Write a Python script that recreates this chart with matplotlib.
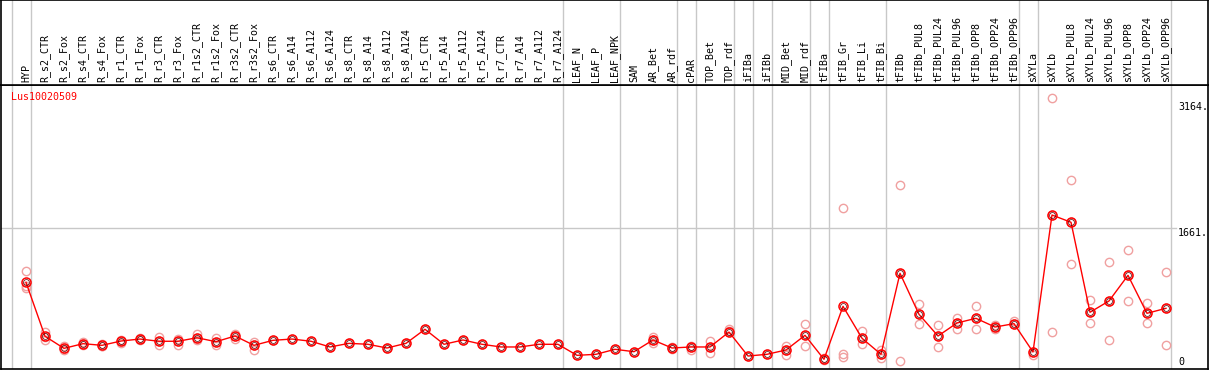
import numpy as np
import matplotlib
matplotlib.use("Agg")
import matplotlib.pyplot as plt

samples = ["HYP",
           "R_s2_CTR", "R_s2_Fox", "R_s4_CTR", "R_s4_Fox", "R_r1_CTR", "R_r1_Fox",
           "R_r3_CTR", "R_r3_Fox", "R_r1s2_CTR", "R_r1s2_Fox", "R_r3s2_CTR", "R_r3s2_Fox",
           "R_s6_CTR", "R_s6_A14", "R_s6_A112", "R_s6_A124",
           "R_s8_CTR", "R_s8_A14", "R_s8_A112", "R_s8_A124",
           "R_r5_CTR", "R_r5_A14", "R_r5_A112", "R_r5_A124",
           "R_r7_CTR", "R_r7_A14", "R_r7_A112", "R_r7_A124",
           "LEAF_N", "LEAF_P", "LEAF_NPK",
           "SAM", "AR_Bet", "AR_rdf",
           "cPAR",
           "TOP_Bet", "TOP_rdf",
           "iFIBa",
           "iFIBb",
           "MID_Bet", "MID_rdf",
           "tFIBa",
           "tFIB_Gr", "tFIB_Li", "tFIB_Bi",
           "tFIBb", "tFIBb_PUL8", "tFIBb_PUL24", "tFIBb_PUL96", "tFIBb_OPP8", "tFIBb_OPP24", "tFIBb_OPP96",
           "sXYLa",
           "sXYLb", "sXYLb_PUL8", "sXYLb_PUL24", "sXYLb_PUL96", "sXYLb_OPP8", "sXYLb_OPP24", "sXYLb_OPP96"]

# size of each sample group (gray separators)
group_sizes = [1, 28, 3, 3, 1, 2, 1, 1, 2, 1, 3, 7, 1, 7]

means = [1031,
         406, 266, 320, 301, 351, 374, 348, 348, 389, 343, 409, 301,
         359, 374, 348, 282, 324, 313, 270, 324, 487, 313, 363, 313,
         282, 282, 313, 313,
         185, 197, 255,
         227, 363, 270,
         282,
         282, 455,
         177,
         197,
         247, 417,
         139,
         753, 383, 197,
         1136, 660, 409, 560, 614, 513, 552,
         224,
         1811, 1727, 684, 815, 1112, 672, 730]

replicates = [[1162, 988, 965],
              [455, 359, 401], [293, 258, 247], [339, 305, 316], [316, 293, 295],
              [363, 328, 351], [386, 363, 374], [401, 301, 348], [374, 305, 348],
              [432, 363, 389], [389, 301, 343], [436, 374, 409], [339, 247, 301],
              [359], [374], [348], [282], [324], [313], [270], [324],
              [487], [313], [363], [313], [282], [282], [313], [313],
              [185], [197], [255],
              [227], [394, 331, 363], [282, 258, 270],
              [247, 293, 282],
              [355, 209, 282], [490, 467, 455],
              [177],
              [197],
              [293, 192, 247], [545, 290, 417],
              [154, 131, 139],
              [197, 169, 1893], [467, 320, 383], [247, 158, 197],
              [119, 2155, 1136], [780, 545, 660], [533, 282, 409], [621, 494, 560],
              [753, 487, 614], [536, 487, 513], [586, 545, 552],
              [185, 224],
              [3164, 452, 1811], [2213, 1240, 1727], [826, 560, 684], [1263, 363, 815],
              [1402, 815, 1112], [788, 560, 672], [1147, 301, 730]]

ytick_vals = [3164, 1661, 0]
gene = "Lus10020509"

W, H = 1209, 370
fig = plt.figure(figsize=[W / 100, H / 100], dpi=100)
mono = "DejaVu Sans Mono"

x = np.arange(len(samples))
x0 = (1 - 26) / 19
x1 = (1208 - 26) / 19

ax = fig.add_axes([1 / W, 1 / H, 1207 / W, 284 / H])
top = fig.add_axes([1 / W, 285 / H, 1207 / W, 85 / H], sharex=ax)

ax.set_xlim(x0, x1)
ax.set_ylim(26.7, 3317.5)
top.set_ylim(0, 1)

for a in (ax, top):
    a.set_xticks([])
    a.set_yticks([])
    for s in a.spines.values():
        s.set_color("black")
        s.set_linewidth(1.2)

# group separators
edges = np.concatenate([[0], np.cumsum(group_sizes)]) - 1 + 0.237
for e in edges:
    ax.axvline(e, color="#c8c8c8", lw=1, zorder=0)
    top.axvline(e, color="#c8c8c8", lw=1, zorder=0)

ax.plot([x0, 60.5], [ytick_vals[1], ytick_vals[1]], color="#c8c8c8", lw=1, zorder=0)

# replicate points
for i, reps in enumerate(replicates):
    ax.plot([i] * len(reps), reps, linestyle="", marker="o", markersize=6,
            markerfacecolor="none", markeredgecolor="#f0a0a0", markeredgewidth=1, zorder=2)

ax.plot(x, means, color="red", lw=1, zorder=3)
ax.plot(x, means, linestyle="", marker="o", markersize=6.5, markerfacecolor="none",
        markeredgecolor="red", markeredgewidth=1.1, zorder=4)
ax.plot(x, means, linestyle="", marker="o", markersize=4.2, markerfacecolor="none",
        markeredgecolor="#500000", markeredgewidth=0.5, zorder=5)

for i, name in enumerate(samples):
    top.text(i, 0.03, name, rotation=90, ha="center", va="bottom",
             fontsize=7.2, family=mono, color="black")

ax.text(10 / 1207, 1 - 12 / 284, gene, transform=ax.transAxes, color="red",
        fontsize=7.2, family=mono, ha="left", va="center")

label_pos = [1 - 22 / 284, 1 - 148 / 284, 1 - 277 / 284]
for v, yp in zip(ytick_vals, label_pos):
    txt = str(v) + ("." if v else "")
    ax.text(1177 / 1207, yp, txt, transform=ax.transAxes, fontsize=7.2,
            family=mono, ha="left", va="center")

fig.savefig("out.png", dpi=100)
